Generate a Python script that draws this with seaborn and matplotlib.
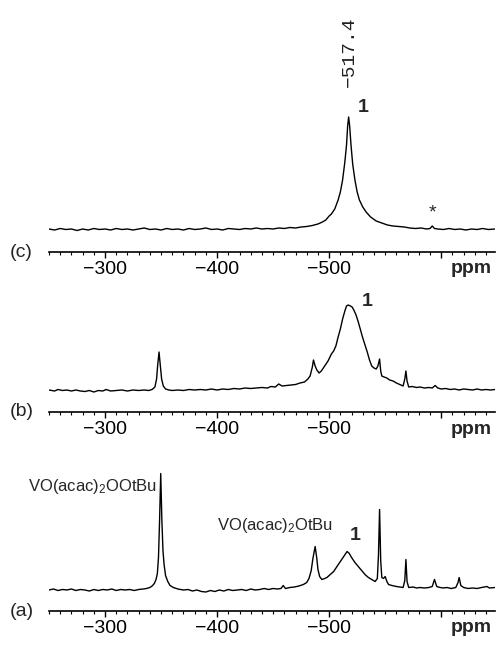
import numpy as np
import matplotlib
matplotlib.use("Agg")
import matplotlib.pyplot as plt
import seaborn as sns
from matplotlib.ticker import MultipleLocator, FixedLocator, FixedFormatter

c_ppm = [-250, -255, -260, -265, -270, -275, -280, -285, -290, -295, -300, -305, -310, -315,
         -320, -325, -330, -335, -340, -345, -350, -355, -360, -365, -370, -375, -380, -385,
         -390, -395, -400, -405, -410, -415, -420, -425, -430, -435, -440, -445, -450, -455,
         -460, -465, -470, -475, -480, -485, -490, -494, -497, -500, -502, -505, -508, -510,
         -512, -514, -515.5, -516.5, -517.4, -518.3, -519.5, -521, -523, -525, -527, -530,
         -533, -537, -542, -547, -552, -557, -562, -567, -572, -577, -582, -587, -590, -592,
         -594, -597, -602, -607, -612, -617, -622, -627, -632, -637, -642, -648]
c_int = [1, 0, 1.5, 0.5, 1, -0.5, 1, 0, 1.5, 0.5, 1, 0, 1.5, 0.5,
         1, 0, 1, 2, 0.5, 1, 0, 1.5, 0.5, 1, 0, 1.5, 0.5, 1,
         2, 0.5, 1, 0, 1.5, 1, 0.5, 1.5, 1, 2, 1, 1.5, 1, 2,
         1.5, 2.5, 2, 3, 3.5, 4.5, 6, 8, 10, 14, 16, 21, 30, 38,
         50, 68, 85, 104, 113, 104, 85, 66, 50, 38, 30, 23,
         18, 13, 9, 7, 5, 4, 3.5, 3, 2, 1.5, 2, 1, 1.5, 4,
         1.5, 1, 0.5, 1.5, 0.5, 1, 0, 1, 0.5, 1.5, 0.5, 1]

b_ppm = [-250, -255, -258, -262, -266, -270, -274, -278, -282, -286, -290, -294, -298, -301,
         -305, -310, -315, -320, -325, -330, -335, -339, -342, -344.5, -346, -347, -348.2,
         -349.2, -350.5, -352, -354, -357, -360, -365, -370, -375, -380, -385, -390, -395,
         -400, -405, -410, -415, -420, -425, -430, -435, -440, -445, -448, -452, -455, -458,
         -462, -466, -470, -474, -478, -481, -483, -485, -486, -487.5, -489, -491, -493,
         -496, -499, -502, -504, -506, -508, -510, -512, -514, -515.5, -517, -519, -520.5,
         -522, -524, -526, -528, -530, -532, -534, -536, -538, -540, -542, -543.5, -545,
         -546, -547, -549, -551.5, -554, -557, -560, -563, -566, -567.5, -568.5, -569.5,
         -571, -574, -578, -581, -585, -589, -592, -594.6, -597, -600, -604, -608, -612,
         -616, -620, -624, -628, -632, -636, -640, -644, -648]
b_int = [1, 0, 1.5, 0.5, 1, 0, 1, 0, -0.5, 0.5, -1, 0.5, 0, 1.5,
         0, 0.5, 1, 0, 1, 0.5, 1, 0.5, 1.5, 4, 12, 26, 39,
         27, 12, 5, 2, 1, 0.5, 1, 0.5, 1.5, 1, 1.5, 1, 2,
         1, 2, 1.5, 2.5, 2, 3, 2.5, 3, 3.5, 3, 4.5, 4, 7, 5,
         5.5, 6, 6.5, 8, 9, 12, 15, 24, 31, 25, 21, 18, 20,
         25, 30, 37, 40, 45, 54, 62, 72, 80, 85, 86, 85, 84,
         81, 76, 69, 61, 53, 46, 39, 31, 25, 23, 22, 25, 32,
         20, 15, 14, 13, 11, 10, 8, 6.5, 5, 12, 20, 10,
         4, 4.5, 3.5, 4, 3, 3.5, 3, 5.5, 3, 2, 2.5, 1.5, 2,
         1, 2, 1.5, 1, 2, 1, 1.5, 1, 1.5]

a_ppm = [-250, -254, -258, -262, -266, -270, -274, -278, -282, -286, -290, -294, -298, -302,
         -306, -310, -314, -318, -322, -326, -330, -334, -337, -340, -342, -344, -345.5,
         -346.7, -347.7, -348.7, -349.7, -350.7, -351.7, -352.7, -354, -356, -358, -361,
         -365, -370, -374, -378, -382, -386, -390, -394, -398, -402, -406, -410, -414, -418,
         -422, -426, -430, -434, -438, -442, -446, -450, -454, -457, -459, -461, -465, -469,
         -473, -477, -480, -482, -484, -485.5, -487.5, -489, -490, -491.5, -493.5, -496,
         -498, -501, -504, -507, -510, -513, -516, -518, -520, -523, -526, -529, -532, -535,
         -538, -541, -543, -544, -545, -546, -547, -548.5, -550, -551.5, -553, -556, -560,
         -563, -566, -567.5, -568.5, -569.5, -571, -575, -578, -581, -585, -589, -592, -594,
         -596, -599, -602, -605, -609, -613, -615, -616, -617.5, -620, -624, -628, -632,
         -636, -640.8, -643, -648]
a_int = [0.5, 1.5, 0, 1, 0.5, 1.5, 0, 1, 0.5, -0.5, 1, 0, 1, 0.5,
         1.5, 0, 1, 0.5, 1, 0, 1, 1.5, 2, 3, 4.5, 7, 11,
         17, 33, 71, 117, 71, 40, 26, 15, 9, 5, 3,
         1.5, 0.5, 1, -0.5, 0.5, -1, -1.5, 0, -1, 0.5, -0.5, 1, 0, 0.5,
         1, 0, 1.5, 0.5, 1, 2, 1, 2, 1.5, 2, 5, 2, 3, 3.5,
         4.5, 6, 8, 12, 20, 32, 44, 32, 21, 14, 11, 12,
         13, 16, 19, 24, 29, 34, 39, 37, 33, 28, 24, 20, 16, 13,
         11, 9, 12, 35, 81, 30, 13, 12, 14, 9, 6, 5, 4,
         3.5, 3, 10, 31, 9, 3, 3.5, 2.5, 3, 2.5, 3, 4, 11,
         4, 3, 2.5, 3, 2, 3, 8, 13, 5, 3, 2, 2.5, 2,
         3, 4, 2.5, 3]

major_ticks = [-300, -400, -500, -600]
tick_labels = ['\u2212300', '\u2212400', '\u2212500', '']

sns.set_theme(style="white")
plt.rcParams['font.family'] = ['Liberation Sans', 'DejaVu Sans']
plt.rcParams['mathtext.default'] = 'regular'

W, H = 499, 646
fig = plt.figure(figsize=(W / 100, H / 100), dpi=100)
fig.patch.set_facecolor('white')

# (top px, bottom px, baseline offset px) dla kazdego panelu
panele = {
    'c': (100, 252, 22, c_ppm, c_int),
    'b': (290, 412, 21, b_ppm, b_int),
    'a': (460, 611, 20.5, a_ppm, a_int),
}
x0, x1 = 49, 495
osie = {}
for nazwa, (top, bottom, off, xs, ys) in panele.items():
    ax = fig.add_axes([x0 / W, 1 - bottom / H, (x1 - x0) / W, (bottom - top) / H])
    ax.set_facecolor('none')
    sns.lineplot(x=xs, y=ys, ax=ax, color='black', linewidth=1.0, sort=False)
    ax.set_xlim(-250, -648)
    ax.set_ylim(-off, bottom - top - off)
    for s in ['top', 'left', 'right']:
        ax.spines[s].set_visible(False)
    ax.spines['bottom'].set_linewidth(1.2)
    ax.spines['bottom'].set_color('black')
    ax.set_yticks([])
    ax.xaxis.set_major_locator(FixedLocator(major_ticks))
    ax.xaxis.set_major_formatter(FixedFormatter(tick_labels))
    ax.xaxis.set_minor_locator(MultipleLocator(10))
    ax.tick_params(axis='x', which='major', bottom=True, direction='out', length=4.5,
                   width=1.0, color='black', labelsize=14, pad=2, labelcolor='black')
    ax.tick_params(axis='x', which='minor', bottom=True, direction='out', length=2.5,
                   width=0.8, color='black')
    ax.set_xlabel('')
    ax.set_ylabel('')
    fig.text(492 / W, 1 - (bottom + 17) / H, 'ppm', ha='right', va='center',
             fontsize=14, fontweight='bold')
    fig.text(10 / W, 1 - bottom / H, f'({nazwa})', ha='left', va='center', fontsize=14)
    osie[nazwa] = ax

# --- opisy ---
ax = osie['c']
ax.text(-517.9, 178, '\u2212517.4', rotation=90, ha='center', va='center',
        family='Liberation Mono', fontsize=14, color='#222222')
ax.text(-530.8, 122, '1', ha='center', va='center', fontsize=14, fontweight='bold', clip_on=False)
ax.text(-592.4, 17, '*', ha='center', va='center', fontsize=14)

ax = osie['b']
ax.text(-533.6, 90, '1', ha='center', va='center', fontsize=14, fontweight='bold', clip_on=False)

ax = osie['a']
ax.text(-346.2, 99.5, 'VO(acac)$_{2}$OOtBu', ha='right', va='baseline', fontsize=12)
ax.text(-503.8, 60.5, 'VO(acac)$_{2}$OtBu', ha='right', va='baseline', fontsize=12)
ax.text(-523.2, 54.7, '1', ha='center', va='center', fontsize=14, fontweight='bold')

plt.savefig('out.png', dpi=100, facecolor='white')
